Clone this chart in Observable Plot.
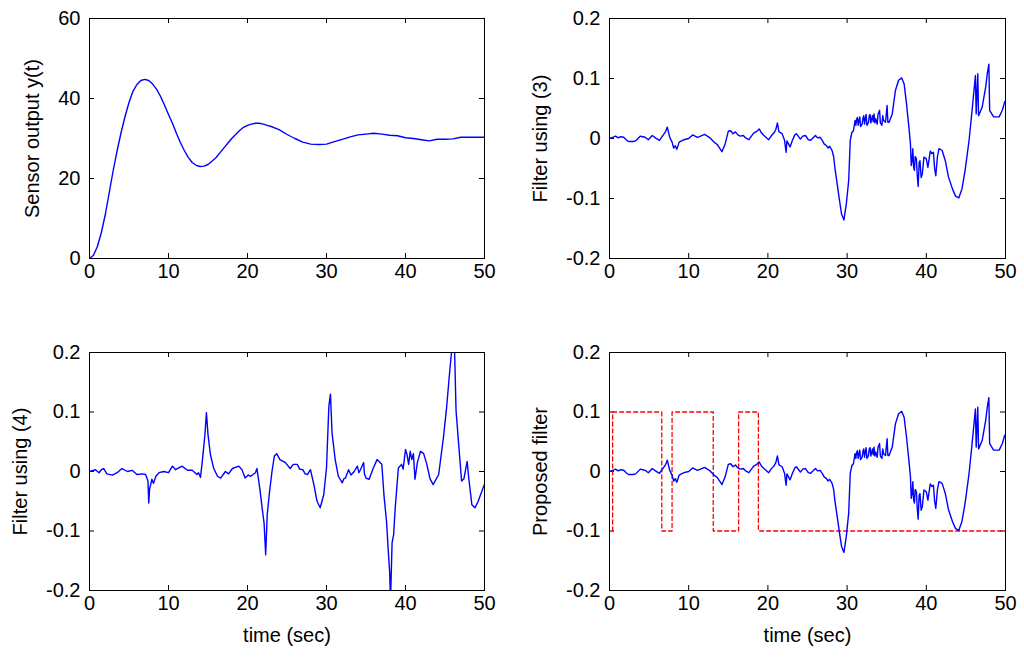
<!DOCTYPE html>
<html>
<head>
<meta charset="utf-8">
<script src="https://cdn.jsdelivr.net/npm/d3@7"></script>
<script src="https://cdn.jsdelivr.net/npm/@observablehq/plot@0.6"></script>
<style>
  html, body { margin: 0; padding: 0; background: #fff; }
  #wrap { position: relative; width: 1024px; height: 660px; overflow: hidden; background: #fff; }
  #wrap > svg { position: absolute; }
</style>
</head>
<body>
<div id="wrap"></div>
<script>
// ---- data ----
const xTicks = [0, 10, 20, 30, 40, 50];
const sensorTicks = [0, 20, 40, 60];
const filterTicks = [-0.2, -0.1, 0, 0.1, 0.2];

const labels = {
  sensor: "Sensor output y(t)",
  filter3: "Filter using (3)",
  filter4: "Filter using (4)",
  proposed: "Proposed filter",
  time: "time (sec)"
};

const sensorOutput = [[0,0],[0.5,0.8],[1,3],[1.5,6.5],[2,11],[2.5,16.5],[3,22],[3.5,27],[4,31.5],[4.5,35.5],[5,39],[5.5,41.8],[6,43.5],[6.5,44.5],[7,44.8],[7.5,44.5],[8,43.6],[8.5,42.3],[9,40.5],[9.5,38.3],[10,36],[10.5,33.8],[11,31.3],[11.5,29],[12,27],[12.5,25.3],[13,24],[13.5,23.3],[14,23],[14.5,23.1],[15,23.5],[15.5,24.3],[16,25.2],[16.5,26.4],[17,27.6],[17.5,28.8],[18,30],[18.5,31],[19,32],[19.5,32.8],[20,33.3],[20.5,33.6],[21,33.8],[21.5,33.8],[22,33.6],[22.5,33.3],[23,33],[23.5,32.6],[24,32.2],[25,31],[26,30],[27,29.1],[28,28.6],[29,28.5],[30,28.6],[31,29.2],[32,29.8],[33,30.4],[34,30.9],[35,31.1],[36,31.3],[37,31.1],[38,30.8],[39,30.7],[40,30.2],[41,30.0],[42,29.7],[43,29.4],[44,29.8],[45,29.8],[46,29.9],[47,30.3],[48,30.3],[49,30.3],[50,30.3]];

const filter3 = [[0,0],[0.4,0.002],[0.76,0.004],[1.1,0.001],[1.4,0.003],[1.8,0.002],[2.1,-0.002],[2.4,-0.005],[3.0,-0.005],[3.3,-0.004],[3.9,0.004],[4.2,0.003],[4.5,0.002],[4.9,-0.002],[5.4,0.005],[5.8,0.001],[6.3,-0.003],[6.8,0.006],[7.1,0.012],[7.3,0.019],[7.6,0.002],[7.9,-0.006],[8.1,-0.016],[8.3,-0.012],[8.5,-0.018],[8.8,-0.006],[9.4,-0.002],[10,0.0],[10.5,0.006],[11.1,0.002],[11.5,0.004],[12,0.007],[12.6,0.002],[13.2,-0.006],[13.6,-0.01],[13.8,-0.014],[14.0,-0.018],[14.2,-0.022],[14.6,-0.009],[15.0,0.012],[15.3,0.013],[15.6,0.008],[15.9,0.011],[16.2,0.006],[16.5,0.004],[16.9,0.005],[17.2,0.001],[17.6,-0.002],[18.2,0.009],[18.6,0.012],[18.9,0.016],[19.2,0.009],[19.5,0.005],[20.1,-0.002],[20.4,0.004],[20.75,0.009],[21.0,0.015],[21.2,0.026],[21.4,0.011],[21.8,0.008],[22.1,-0.003],[22.3,-0.023],[22.4,-0.004],[22.6,-0.009],[22.8,-0.014],[23.1,-0.003],[23.4,0.006],[23.6,0.008],[24.1,-0.001],[24.4,0.004],[24.75,0.005],[25.1,-0.002],[25.4,-0.003],[26,0.005],[26.3,0.001],[26.6,0.002],[26.9,-0.004],[27.1,-0.009],[27.4,-0.012],[27.6,-0.016],[27.8,-0.013],[28.1,-0.02],[28.3,-0.03],[28.45,-0.048],[28.75,-0.076],[29.04,-0.103],[29.3,-0.126],[29.6,-0.136],[29.9,-0.109],[30.2,-0.07],[30.4,-0.003],[30.6,0.01],[30.8,0.013],[31.0,0.03],[31.1,0.022],[31.2,0.032],[31.3,0.035],[31.4,0.022],[31.5,0.03],[31.6,0.036],[31.7,0.02],[31.9,0.024],[32.0,0.034],[32.1,0.038],[32.2,0.024],[32.3,0.033],[32.4,0.04],[32.5,0.022],[32.7,0.027],[32.8,0.038],[32.9,0.04],[33.0,0.026],[33.2,0.038],[33.3,0.028],[33.4,0.041],[33.5,0.026],[33.6,0.033],[33.8,0.024],[33.9,0.04],[34.1,0.047],[34.2,0.026],[34.4,0.022],[34.5,0.038],[34.6,0.03],[34.85,0.027],[35.05,0.055],[35.15,0.027],[35.3,0.027],[35.7,0.041],[36.1,0.08],[36.5,0.097],[36.9,0.101],[37.2,0.091],[37.5,0.058],[37.8,0.019],[38.0,-0.009],[38.1,-0.045],[38.2,-0.037],[38.3,-0.017],[38.4,-0.048],[38.5,-0.053],[38.6,-0.03],[38.75,-0.034],[38.85,-0.06],[38.97,-0.08],[39.1,-0.04],[39.2,-0.037],[39.35,-0.065],[39.5,-0.059],[39.7,-0.031],[40.0,-0.034],[40.2,-0.048],[40.5,-0.021],[40.7,-0.025],[40.9,-0.023],[41.05,-0.05],[41.2,-0.062],[41.4,-0.031],[41.6,-0.017],[42.0,-0.02],[42.4,-0.037],[42.8,-0.064],[43.3,-0.084],[43.7,-0.096],[44.1,-0.099],[44.5,-0.084],[44.9,-0.053],[45.4,-0.003],[45.7,0.036],[46.0,0.077],[46.2,0.105],[46.3,0.041],[46.5,0.108],[46.6,0.038],[47.05,0.052],[47.5,0.086],[47.7,0.108],[47.9,0.124],[48.0,0.047],[48.5,0.036],[49.2,0.036],[49.6,0.047],[49.9,0.061],[50,0.062]];

const filter4 = [[0,0],[0.76,0.003],[1.2,-0.002],[1.5,0.003],[1.8,0.005],[2.2,-0.004],[2.9,-0.006],[3.5,-0.002],[4.1,0.005],[4.8,0],[5.4,0.002],[6.0,-0.005],[6.7,-0.004],[7.1,-0.005],[7.4,-0.016],[7.5,-0.053],[7.6,-0.03],[7.9,-0.013],[8.1,-0.02],[8.4,-0.008],[8.8,-0.002],[9.4,0],[10,-0.002],[10.5,0.009],[10.9,0.003],[11.3,0.006],[11.7,0.009],[12.4,0.002],[13,0.002],[13.6,-0.005],[13.8,-0.002],[14.05,-0.01],[14.3,0.02],[14.6,0.06],[14.8,0.099],[15.0,0.062],[15.3,0.029],[15.7,0.006],[16.2,-0.008],[16.6,-0.011],[17.2,0],[17.6,-0.004],[18.1,0.005],[18.9,0.009],[19.3,0.003],[19.7,-0.011],[20.1,-0.006],[20.4,-0.008],[21,-0.002],[21.2,0.005],[21.6,-0.033],[21.85,-0.061],[22.1,-0.087],[22.3,-0.14],[22.5,-0.072],[22.8,-0.033],[23.1,0],[23.4,0.026],[23.7,0.03],[24.1,0.02],[24.8,0.015],[25.4,0.005],[25.8,0.012],[26.3,0.012],[26.6,0.004],[27,0.003],[27.3,-0.004],[27.6,-0.005],[27.97,0.003],[28.4,-0.022],[28.8,-0.05],[29.2,-0.061],[29.65,-0.039],[30,0.006],[30.3,0.11],[30.5,0.13],[30.7,0.065],[31.1,0.02],[31.5,-0.008],[32,-0.019],[32.2,-0.012],[32.4,-0.011],[32.8,0.003],[33.1,-0.006],[33.5,0],[33.9,0.009],[34.1,-0.002],[34.3,0.003],[34.7,0.015],[34.8,-0.004],[35,-0.011],[35.4,-0.013],[35.9,0.005],[36.4,0.02],[37,0.012],[37.3,-0.044],[37.6,-0.084],[37.8,-0.129],[38.0,-0.17],[38.1,-0.22],[38.3,-0.12],[38.5,-0.106],[38.7,-0.061],[39.1,0.006],[39.5,0.012],[39.7,0.004],[40,0.037],[40.2,0.028],[40.4,0.012],[40.6,0.034],[40.8,0.02],[41.0,0.03],[41.2,-0.013],[41.5,0.015],[41.9,0.034],[42.3,0.03],[42.7,0.012],[43.1,-0.012],[43.5,-0.022],[44.2,-0.005],[44.8,0.057],[45.2,0.107],[45.6,0.169],[45.9,0.21],[46.2,0.21],[46.4,0.102],[46.7,0.051],[47.1,-0.016],[47.4,-0.012],[47.8,0.017],[48.0,-0.01],[48.4,-0.056],[48.8,-0.061],[49.2,-0.05],[49.5,-0.039],[49.9,-0.025],[50,-0.022]];

// proposed filter output (blue) is the same trace as filter (3)
const proposed = filter3;

// red dashed switching signal
const switching = [[0.4,-0.1],[0.4,0.1],[6.6,0.1],[6.6,-0.1],[7.9,-0.1],[7.9,0.1],[13.1,0.1],[13.1,-0.1],[16.3,-0.1],[16.3,0.1],[18.8,0.1],[18.8,-0.1],[50,-0.1]];

// ---- drawing ----
const FONT = "'Liberation Sans', Arial, sans-serif";
const FS = 20;
const wrap = document.getElementById("wrap");

function panel({left, top, width, height, mL, mT, mR, mB, yDomain, yTicks, yLabel, yLabelDx, xLabel, series, extra = []}) {
  const innerH = height - mT - mB;
  const innerW = width - mL - mR;
  const tickLen = 5;
  const marks = [
    Plot.axisX({ticks: xTicks, tickSize: 0, tickPadding: 5, tickFormat: d => String(d), label: null, fontSize: FS}),
    Plot.axisY({ticks: yTicks, tickSize: 0, tickPadding: 9, tickFormat: d => String(d), label: null, fontSize: FS}),
    Plot.tickX(xTicks, {x: d => d, insetTop: innerH - tickLen, stroke: "black"}),
    Plot.tickX(xTicks, {x: d => d, insetBottom: innerH - tickLen, stroke: "black"}),
    Plot.tickY(yTicks, {y: d => d, insetRight: innerW - tickLen, stroke: "black"}),
    Plot.tickY(yTicks, {y: d => d, insetLeft: innerW - tickLen, stroke: "black"}),
    ...extra,
    Plot.line(series, {x: d => d[0], y: d => d[1], stroke: "#0000ff", strokeWidth: 1.4, clip: true}),
    Plot.frame({stroke: "black", strokeWidth: 1}),
    Plot.text([yLabel], {text: d => d, frameAnchor: "left", dx: yLabelDx, rotate: -90, fontSize: FS, fill: "black", textAnchor: "middle", lineAnchor: "middle"})
  ];
  if (xLabel) {
    marks.push(Plot.text([xLabel], {text: d => d, frameAnchor: "bottom", dy: 45, fontSize: FS, fill: "black", lineAnchor: "middle"}));
  }
  const svg = Plot.plot({
    width, height,
    marginLeft: mL, marginTop: mT, marginRight: mR, marginBottom: mB,
    x: {domain: [0, 50]},
    y: {domain: yDomain},
    style: {fontFamily: FONT, fontSize: FS + "px", color: "black", background: "white", overflow: "visible"},
    marks
  });
  svg.style.left = left + "px";
  svg.style.top = top + "px";
  wrap.appendChild(svg);
}

// top-left
panel({left: 0, top: 0, width: 512, height: 330, mL: 89, mT: 18, mR: 28, mB: 72,
  yDomain: [0, 60], yTicks: sensorTicks, yLabel: labels.sensor, yLabelDx: -57, series: sensorOutput});
// top-right
panel({left: 512, top: 0, width: 512, height: 330, mL: 97, mT: 18, mR: 19, mB: 72,
  yDomain: [-0.2, 0.2], yTicks: filterTicks, yLabel: labels.filter3, yLabelDx: -69, series: filter3});
// bottom-left
panel({left: 0, top: 330, width: 512, height: 330, mL: 89, mT: 22, mR: 28, mB: 70,
  yDomain: [-0.2, 0.2], yTicks: filterTicks, yLabel: labels.filter4, yLabelDx: -69, xLabel: labels.time, series: filter4});
// bottom-right
panel({left: 512, top: 330, width: 512, height: 330, mL: 97, mT: 22, mR: 19, mB: 70,
  yDomain: [-0.2, 0.2], yTicks: filterTicks, yLabel: labels.proposed, yLabelDx: -69, xLabel: labels.time, series: proposed,
  extra: [Plot.line(switching, {x: d => d[0], y: d => d[1], stroke: "#ff0000", strokeWidth: 1.3, strokeDasharray: "4,3"})]});
</script>
</body>
</html>
